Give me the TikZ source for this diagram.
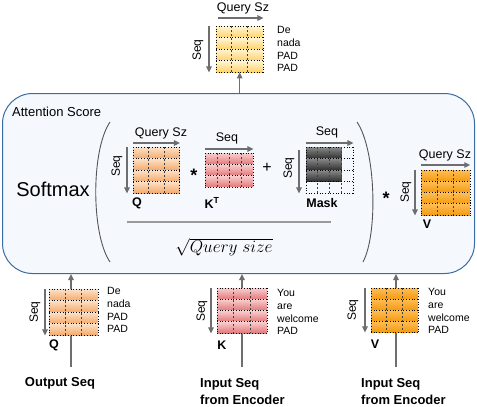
\documentclass[tikz,border=0pt]{standalone}
\usepackage{fontspec}
\setmainfont{Liberation Sans}
\usetikzlibrary{arrows.meta}
\definecolor{boxfill}{HTML}{F5F9FE}
\definecolor{boxline}{HTML}{3A6CA3}
\definecolor{arrgray}{HTML}{6E6E6E}
\definecolor{yelT}{HTML}{FFF5D8}
\definecolor{yelB}{HTML}{FFD36A}
\definecolor{peaT}{HTML}{FCE2CA}
\definecolor{peaB}{HTML}{F4AA6A}
\definecolor{pinT}{HTML}{F9CFCF}
\definecolor{pinB}{HTML}{E2777A}
\definecolor{graT}{HTML}{8A8A8A}
\definecolor{graB}{HTML}{2F2F2F}
\definecolor{oraT}{HTML}{FFBE55}
\definecolor{oraB}{HTML}{F39A12}
\definecolor{parcol}{HTML}{555555}
\definecolor{fraccol}{HTML}{9A9A9A}
\tikzset{
  arr/.style={draw=arrgray, line width=1.3pt, -{Triangle[length=6pt,width=5.5pt]}},
  lbl/.style={font=\fontsize{12.5}{14}\selectfont, inner sep=0},
  blbl/.style={font=\bfseries\fontsize{12.5}{14}\selectfont, inner sep=0},
  wlbl/.style={font=\fontsize{10.5}{12.8}\selectfont, align=left, anchor=north west, inner sep=0},
  seqv/.style={rotate=90, font=\fontsize{12}{14}\selectfont, inner sep=0},
  bottxt/.style={font=\bfseries\fontsize{13}{17}\selectfont, align=left, inner sep=0},
  gridh/.style={black, line width=0.7pt, dotted},
  gridv/.style={black!75, line width=0.6pt, dash pattern=on 2pt off 2pt},
  opsym/.style={font=\bfseries\fontsize{18}{20}\selectfont, inner sep=0},
}
% x y cols rows cw ch name
\newcommand\gridonly[7]{%
  \foreach \rr in {0,...,#4}{\draw[gridh] (#1,{#2+\rr*#6}) -- ++({#3*#5},0);}
  \pgfmathtruncatemacro\lastc{#3-1}
  \foreach \cc in {1,...,\lastc}{\draw[gridv] ({#1+\cc*#5},#2) -- ++(0,{#4*#6});}
  \draw[gridh] (#1,#2) -- ++(0,{#4*#6});
  \draw[gridh] ({#1+#3*#5},#2) -- ++(0,{#4*#6});
  \node[inner sep=0, minimum width={(#3*#5)*1pt}, minimum height={(#4*#6)*1pt}, anchor=north west] (#7) at (#1,#2) {};
}
% x y cols rows cw ch top bottom name
\newcommand\cellmat[9]{%
  \foreach \rr in {1,...,#4}{\shade[top color=#7,bottom color=#8] (#1,{#2+(\rr-1)*#6}) rectangle ++({#3*#5},#6);}
  \gridonly{#1}{#2}{#3}{#4}{#5}{#6}{#9}
}
\begin{document}
\begin{tikzpicture}[x=1pt,y=-1pt]
\fill[white] (0,0) rectangle (477,407);
\useasboundingbox (0,0) rectangle (477,407);

% big box
\node[draw=boxline, fill=boxfill, line width=1pt, rounded corners=30pt, minimum width=472pt, minimum height=180pt, anchor=north west, inner sep=0] (box) at (2,93) {};
\node[anchor=west, inner sep=0, font=\fontsize{13}{15}\selectfont] (att) at (12,112) {Attention Score};
\node[inner sep=0, font=\fontsize{20}{22}\selectfont] (soft) at (53,189) {Softmax};

% parentheses
\draw[parcol, line width=0.9pt] (110,122) .. controls (91,150) and (91,234) .. (110,262);
\draw[parcol, line width=0.9pt] (357,122) .. controls (376,150) and (378,234) .. (363,262);

% Q inner
\cellmat{133}{147}{3}{4}{15.5}{11.5}{peaT}{peaB}{qin}
\node[lbl] (qinsz) at (161,133) {Query Sz};
\draw[arr] ([yshift=4pt]qin.north west) -- ([yshift=4pt]qin.north east);
\draw[arr] ([xshift=-6pt]qin.north west) -- ([xshift=-6pt]qin.south west);
\node[seqv] (qinseq) at (117,166) {Seq};
\node[blbl] (qinl) at (137,203) {Q};

\node[opsym] (mul1) at (194,175) {*};

% K^T
\cellmat{205}{153}{4}{3}{12}{11.33}{pinT}{pinB}{kt}
\node[lbl] (ktseq) at (227,138) {Seq};
\draw[arr] ([yshift=4pt]kt.north west) -- ([yshift=4pt]kt.north east);
\node[blbl] (ktl) at (212,203) {K\textsuperscript{T}};

\node[inner sep=0, font=\fontsize{16}{18}\selectfont] (plus) at (267,168) {+};

% Mask
\foreach \rr in {1,2,3}{\shade[top color=graT,bottom color=graB] (306,{147+(\rr-1)*11.5}) rectangle ++(35.25,11.5);}
\gridonly{306}{147}{4}{4}{11.75}{11.5}{mask}
\node[lbl] (maskseq) at (327,132) {Seq};
\draw[arr] ([yshift=4pt]mask.north west) -- ([yshift=4pt]mask.north east);
\draw[arr] ([xshift=-7pt,yshift=-3pt]mask.north west) -- ([xshift=-7pt]mask.south west);
\node[seqv] (maskseqv) at (289,168) {Seq};
\node[blbl] (maskl) at (322,203) {Mask};

% fraction
\draw[fraccol, line width=1.5pt] (127,222) -- (331,222);
\node[inner sep=0] (sq) at (224,247) {\fontsize{17.28}{20}\selectfont $\sqrt{Query\ size}$};

\node[opsym] (mul2) at (386,198) {*};

% V inner
\cellmat{421}{170}{3}{4}{16.3}{11.25}{oraT}{oraB}{vin}
\node[lbl] (vinsz) at (445,155) {Query Sz};
\draw[arr] ([yshift=5pt]vin.north west) -- ([yshift=5pt]vin.north east);
\draw[arr] ([xshift=-6pt]vin.north west) -- ([xshift=-6pt]vin.south west);
\node[seqv] (vinseq) at (406,192) {Seq};
\node[blbl] (vinl) at (427,224) {V};

% top output
\cellmat{216}{26}{3}{4}{15.67}{11.5}{yelT}{yelB}{outm}
\node[lbl] (outsz) at (243,8) {Query Sz};
\draw[arr] ([yshift=8pt,xshift=2pt]outm.north west) -- ([yshift=8pt]outm.north east);
\draw[arr] ([xshift=-7pt]outm.north west) -- ([xshift=-7pt]outm.south west);
\node[seqv] (outseq) at (198,50) {Seq};
\node[wlbl] (outw) at (277,26) {De\\nada\\PAD\\PAD};
\draw[arr] (outm.south |- box.north) -- (outm.south);

% bottom sources
\coordinate (qsrc) at (71,367);
\coordinate (ksrc) at (242,367);
\coordinate (vsrc) at (396,367);
\draw[arr] (qsrc) -- (qsrc |- box.south);
\draw[arr] (ksrc) -- (ksrc |- box.south);
\draw[arr] (vsrc) -- (vsrc |- box.south);

% bottom Q
\cellmat{49}{289}{3}{4}{16.3}{11.5}{peaT}{peaB}{qb}
\draw[arr] ([xshift=-4pt]qb.north west) -- ([xshift=-4pt]qb.south west);
\node[seqv] (qbseq) at (35,312) {Seq};
\node[blbl] (qbl) at (54,345) {Q};
\node[wlbl] (qbw) at (107,287) {De\\nada\\PAD\\PAD};
\node[bottxt] (outseqt) at (60,383) {Output Seq};

% bottom K
\cellmat{217}{288}{3}{4}{16.67}{11.25}{pinT}{pinB}{kb}
\draw[arr] ([xshift=-6pt]kb.north west) -- ([xshift=-6pt]kb.south west);
\node[seqv] (kbseq) at (202,311) {Seq};
\node[blbl] (kbl) at (222,345) {K};
\node[wlbl] (kbw) at (277,289) {You\\are\\welcome\\PAD};
\node[bottxt, anchor=north west] (kt2) at (200,378) {Input Seq\\from Encoder};

% bottom V
\cellmat{371}{288}{3}{4}{15.67}{11}{oraT}{oraB}{vb}
\draw[arr] ([xshift=-6pt]vb.north west) -- ([xshift=-6pt]vb.south west);
\node[seqv] (vbseq) at (353,310) {Seq};
\node[blbl] (vbl) at (375,344) {V};
\node[wlbl] (vbw) at (428,288) {You\\are\\welcome\\PAD};
\node[bottxt, anchor=north west] (vt2) at (361,378) {Input Seq\\from Encoder};
\end{tikzpicture}
\end{document}
